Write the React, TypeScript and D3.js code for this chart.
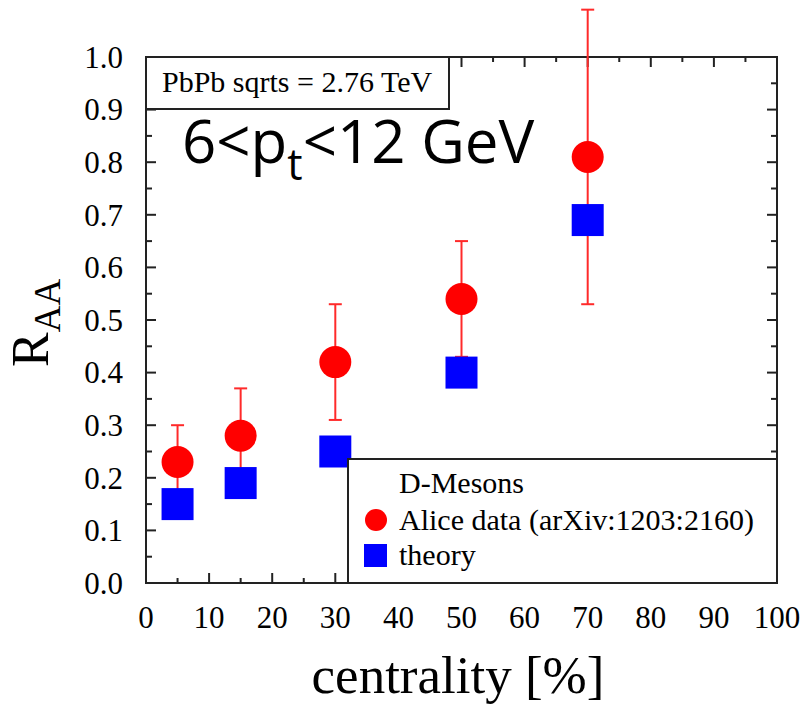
import React from "react";
import * as d3 from "d3";

const centrality = [5, 15, 30, 50, 70];
const aliceValues = [0.23, 0.28, 0.42, 0.54, 0.81];
const aliceErrors = [0.07, 0.09, 0.11, 0.11, 0.28];
const theoryValues = [0.15, 0.19, 0.25, 0.4, 0.69];
const xTickValues = [0, 10, 20, 30, 40, 50, 60, 70, 80, 90, 100];
const yTickValues = [0, 0.1, 0.2, 0.3, 0.4, 0.5, 0.6, 0.7, 0.8, 0.9, 1.0];

const W = 805;
const H = 705;
const L = 146, R = 777, T = 57, B = 583;
const serif = "'Liberation Serif', 'Times New Roman', serif";
const sans = "'Open Sans', 'Liberation Sans', sans-serif";
const frameColor = "#222";

export default function App() {
  const x = d3.scaleLinear().domain([0, 100]).range([L, R]);
  const y = d3.scaleLinear().domain([0, 1]).range([B, T]);
  const xMinor = d3.range(0, 101, 5);
  const yMinor = d3.range(0, 21).map((i) => i * 0.05);
  const cap = 6.5;

  return (
    <svg width={W} height={H} style={{ position: "absolute", left: 0, top: 0, background: "#fff" }}>
      <rect x={0} y={0} width={W} height={H} fill="#fff" />
      {xMinor.map((v, i) => {
        const len = v % 10 === 0 ? 10 : 5;
        const px = x(v);
        return (
          <g key={"xt" + i} stroke={frameColor} strokeWidth={2}>
            <line x1={px} x2={px} y1={B} y2={B - len} />
            <line x1={px} x2={px} y1={T} y2={T + len} />
          </g>
        );
      })}
      {yMinor.map((v, i) => {
        const len = i % 2 === 0 ? 10 : 6;
        const py = y(v);
        return (
          <g key={"yt" + i} stroke={frameColor} strokeWidth={2}>
            <line x1={L} x2={L + len} y1={py} y2={py} />
            <line x1={R} x2={R - len} y1={py} y2={py} />
          </g>
        );
      })}
      <rect x={L} y={T} width={R - L} height={B - T} fill="none" stroke={frameColor} strokeWidth={2} />
      {yTickValues.map((v, i) => (
        <text key={"yl" + i} x={123} y={y(v)} dy="0.35em" textAnchor="end" fontFamily={serif} fontSize={31} fill="#000">
          {v.toFixed(1)}
        </text>
      ))}
      {xTickValues.map((v, i) => (
        <text key={"xl" + i} x={x(v)} y={628} textAnchor="middle" fontFamily={serif} fontSize={31} fill="#000">
          {v}
        </text>
      ))}
      <text transform="translate(48,367) rotate(-90)" fontFamily={serif} fill="#000">
        <tspan fontSize={52}>R</tspan>
        <tspan fontSize={37} dy={12}>AA</tspan>
      </text>
      <text x={458} y={693} textAnchor="middle" fontFamily={serif} fontSize={53} fill="#000">
        centrality [%]
      </text>
      {centrality.map((c, i) => {
        const px = x(c);
        const top = y(aliceValues[i] + aliceErrors[i]);
        const bot = y(aliceValues[i] - aliceErrors[i]);
        return (
          <g key={"eb" + i} stroke="#ff2a2a" strokeWidth={2}>
            <line x1={px} x2={px} y1={top} y2={bot} />
            <line x1={px - cap} x2={px + cap} y1={top} y2={top} />
            <line x1={px - cap} x2={px + cap} y1={bot} y2={bot} />
          </g>
        );
      })}
      {centrality.map((c, i) => (
        <circle key={"c" + i} cx={x(c)} cy={y(aliceValues[i])} r={16} fill="#ff0000" />
      ))}
      {centrality.map((c, i) => (
        <rect key={"s" + i} x={x(c) - 16} y={y(theoryValues[i]) - 16} width={32} height={32} fill="#0000ff" />
      ))}
      <rect x={L} y={T} width={449 - L} height={109 - T} fill="#fff" stroke={frameColor} strokeWidth={2} />
      <text x={162} y={92} fontFamily={serif} fontSize={30} fill="#000">
        PbPb sqrts = 2.76 TeV
      </text>
      <text x={182} y={163} fontFamily={sans} fontSize={60} fill="#000">
        6&lt;p
        <tspan fontSize={43} dy={17}>t</tspan>
        <tspan dy={-17}>&lt;12 GeV</tspan>
      </text>
      <rect x={348} y={459} width={R - 348} height={B - 459} fill="#fff" stroke={frameColor} strokeWidth={2} />
      <text x={399} y={493} fontFamily={serif} fontSize={30} fill="#000">D-Mesons</text>
      <circle cx={376} cy={520} r={11} fill="#ff0000" />
      <text x={399} y={530} fontFamily={serif} fontSize={30} fill="#000">Alice data (arXiv:1203:2160)</text>
      <rect x={364} y={544} width={23} height={23} fill="#0000ff" />
      <text x={399} y={565} fontFamily={serif} fontSize={30} fill="#000">theory</text>
    </svg>
  );
}
